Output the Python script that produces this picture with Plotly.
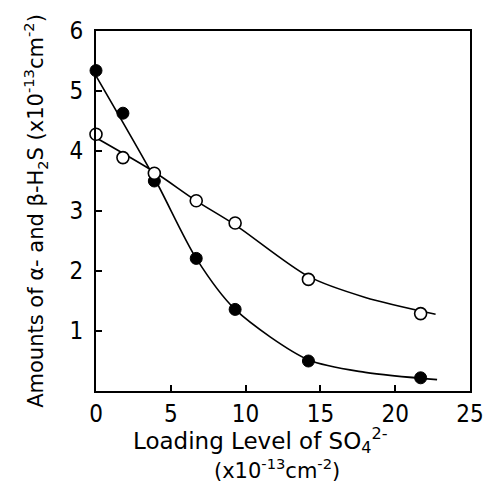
import plotly.graph_objects as go

# Measured points
x_filled = [0, 1.8, 3.9, 6.7, 9.3, 14.2, 21.7]
y_filled = [5.34, 4.63, 3.50, 2.21, 1.36, 0.50, 0.22]
x_open = [0, 1.8, 3.9, 6.7, 9.3, 14.2, 21.7]
y_open = [4.28, 3.89, 3.63, 3.17, 2.80, 1.86, 1.29]

# Fitted curves as drawn in the figure
cx_filled = [0, 3.9, 6.7, 9.3, 14.2, 18.0, 22.8]
cy_filled = [5.25, 3.55, 2.21, 1.36, 0.52, 0.31, 0.19]
cx_open = [0, 3.9, 6.7, 9.3, 14.2, 18.0, 22.7]
cy_open = [4.22, 3.65, 3.17, 2.77, 1.91, 1.56, 1.28]

x_title_1 = "Loading Level of SO<sub>4</sub><sup>2-</sup>"
x_title_2 = "(x10<sup>-13</sup>cm<sup>-2</sup>)"
y_title = "Amounts of α- and β-H<sub>2</sub>S (x10<sup>-13</sup>cm<sup>-2</sup>)"

font = "Liberation Sans Narrow, DejaVu Sans Condensed, DejaVu Sans"
tfont = "DejaVu Sans"
fig = go.Figure()
fig.add_trace(go.Scatter(x=cx_filled, y=cy_filled, mode="lines",
                         line=dict(color="black", width=1.6, shape="spline", smoothing=0.8),
                         showlegend=False, hoverinfo="skip"))
fig.add_trace(go.Scatter(x=cx_open, y=cy_open, mode="lines",
                         line=dict(color="black", width=1.6, shape="spline", smoothing=0.8),
                         showlegend=False, hoverinfo="skip"))
fig.add_trace(go.Scatter(x=x_filled, y=y_filled, mode="markers",
                         marker=dict(size=12, color="black", line=dict(color="black", width=1)),
                         showlegend=False, cliponaxis=False))
fig.add_trace(go.Scatter(x=x_open, y=y_open, mode="markers",
                         marker=dict(size=12, color="white", line=dict(color="black", width=1.6)),
                         showlegend=False, cliponaxis=False))

fig.add_annotation(text=x_title_1, xref="paper", yref="paper", x=0.44, y=-0.138,
                   xanchor="center", yanchor="middle", showarrow=False,
                   font=dict(size=23, family=tfont, color="black"))
fig.add_annotation(text=x_title_2, xref="paper", yref="paper", x=0.484, y=-0.216,
                   xanchor="center", yanchor="middle", showarrow=False,
                   font=dict(size=21, family=tfont, color="black"))

fig.update_layout(
    width=496, height=485,
    margin=dict(l=96, r=14, t=31, b=94),
    paper_bgcolor="white", plot_bgcolor="white",
    font=dict(family=font, color="black", size=22),
    xaxis=dict(range=[0, 25], tickvals=[0, 5, 10, 15, 20, 25],
               ticks="inside", ticklen=6, tickwidth=1.5, tickcolor="black",
               showline=True, linecolor="black", linewidth=2, mirror=True,
               showgrid=False, zeroline=False,
               tickfont=dict(size=24, family=font)),
    yaxis=dict(range=[0, 6], tickvals=[1, 2, 3, 4, 5, 6],
               ticks="inside", ticklen=6, tickwidth=1.5, tickcolor="black",
               showline=True, linecolor="black", linewidth=2, mirror=True,
               showgrid=False, zeroline=False, ticklabelstandoff=6,
               tickfont=dict(size=24, family=font),
               title=dict(text=y_title, font=dict(size=21, family=tfont), standoff=20)),
)

fig.write_html("out.html")
